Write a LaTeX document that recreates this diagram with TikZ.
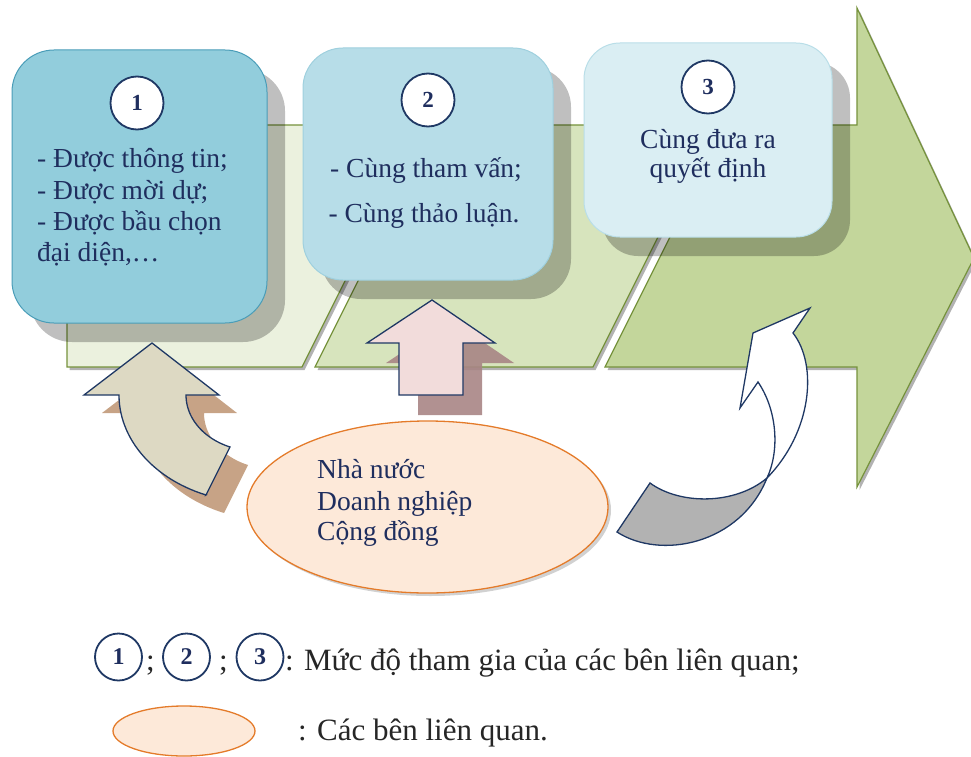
\documentclass[tikz,border=0pt]{standalone}
\usepackage{fontspec}
\setmainfont{Liberation Serif}
\usetikzlibrary{shapes.geometric,shadows}

\definecolor{segpale}{HTML}{EBF1DE}
\definecolor{segmid}{HTML}{D7E4BD}
\definecolor{segdark}{HTML}{C3D69B}
\definecolor{segline}{HTML}{76923C}
\definecolor{boxone}{HTML}{92CDDC}
\definecolor{boxoneline}{HTML}{4A9DB8}
\definecolor{boxtwo}{HTML}{B7DDE8}
\definecolor{boxtwoline}{HTML}{9FD0DE}
\definecolor{boxthree}{HTML}{DAEEF3}
\definecolor{boxthreeline}{HTML}{B9DEE8}
\definecolor{navy}{HTML}{1F3864}
\definecolor{inktext}{HTML}{1F2E5E}
\definecolor{peach}{HTML}{FDE9D9}
\definecolor{peachline}{HTML}{E47B2A}
\definecolor{pinkarrow}{HTML}{F2DCDB}
\definecolor{pinkshade}{HTML}{A88585}
\definecolor{tanarrow}{HTML}{DDD9C3}
\definecolor{tanshade}{HTML}{C7A386}
\definecolor{tailgray}{HTML}{B2B2B2}

\begin{document}
\begin{tikzpicture}[x=1pt,y=-1pt,
  seg/.style={draw=segline, line width=1.2pt, line join=miter},
  segshade/.style={fill=black, opacity=.3},
  card/.style={rounded corners=#1, inner sep=0pt, line width=1pt,
     drop shadow={shadow xshift=18pt, shadow yshift=-19pt, opacity=.25, fill=black}},
  numcirc/.style={circle, draw=navy, line width=1.8pt, fill=white, minimum size=53pt,
     inner sep=0pt, text=inktext, font=\fontsize{23}{23}\selectfont\bfseries},
  legcirc/.style={numcirc, minimum size=47pt, font=\fontsize{24}{24}\selectfont\bfseries},
  bodytxt/.style={inner sep=0pt, text=inktext, font=\fontsize{27.5}{32}\selectfont},
  legtxt/.style={inner sep=0pt, text=black!85, font=\fontsize{31}{36}\selectfont, anchor=base west},
  arrowline/.style={draw=navy, line width=1.3pt, line join=miter}
]
\useasboundingbox (0,0) rectangle (971,757);
\clip (0,0) rectangle (971,757);

% --- process band: two parallelograms and the final arrow ---
\fill[segshade, shift={(2.5,3)}] (67,125) -- (423,125) -- (302,367) -- (67,367) -- cycle;
\fill[segshade, shift={(2.5,3)}] (436,125) -- (714,125) -- (593,367) -- (315,367) -- cycle;
\fill[segshade, shift={(2.5,3)}] (726,125) -- (857,125) -- (857,8) -- (974,258) -- (857,487) -- (857,367) -- (605,367) -- cycle;
\draw[seg, fill=segpale] (67,125) -- (423,125) -- (302,367) -- (67,367) -- cycle;
\draw[seg, fill=segmid] (436,125) -- (714,125) -- (593,367) -- (315,367) -- cycle;
\draw[seg, fill=segdark] (726,125) -- (857,125) -- (857,8) -- (974,258) -- (857,487) -- (857,367) -- (605,367) -- cycle;

% --- participation level cards ---
\node[card=42pt, fill=boxone, draw=boxoneline, minimum width=255pt, minimum height=273pt] (b1) at (139.5,186.5) {};
\node[card=40pt, fill=boxtwo, draw=boxtwoline, minimum width=250pt, minimum height=232pt] (b2) at (428,164) {};
\node[card=36pt, fill=boxthree, draw=boxthreeline, minimum width=248pt, minimum height=194pt] (b3) at (708,140) {};

\node[numcirc] (c1) at (137,103) {1};
\node[numcirc] (c2) at (428,100) {2};
\node[numcirc] (c3) at (708,87) {3};

\node[bodytxt, anchor=base west] (t1a) at (37,167) {- Được thông tin;};
\node[bodytxt, anchor=base west] (t1b) at (37,199) {- Được mời dự;};
\node[bodytxt, anchor=base west] (t1c) at (37,230) {- Được bầu chọn};
\node[bodytxt, anchor=base west] (t1d) at (37,261) {đại diện,…};

\node[bodytxt, anchor=base] (t2a) at (426,177) {- Cùng tham vấn;};
\node[bodytxt, anchor=base] (t2b) at (424,222) {- Cùng thảo luận.};

\node[bodytxt, anchor=base] (t3a) at (708,148) {Cùng đưa ra};
\node[bodytxt, anchor=base] (t3b) at (708,177) {quyết định};

% --- straight up arrow into level 2 ---
\fill[pinkshade, opacity=.9, shift={(19,20)}] (432,300) -- (495,343) -- (463,343) -- (463,395) -- (399,395) -- (399,343) -- (367,343) -- cycle;
\draw[arrowline, fill=pinkarrow] (432,300) -- (495,343) -- (463,343) -- (463,395) -- (399,395) -- (399,343) -- (367,343) -- cycle;

% --- curved arrow into level 1 ---
\fill[tanshade, shift={(18,18)}] (152,343) -- (219,395) -- (186,395)
  -- plot[domain=180:111.8, samples=30] ({256+70*cos(\x)}, {395+56*sin(\x)})
  -- (206,495)
  -- plot[domain=111.4:180, samples=30] ({256+137*cos(\x)}, {395+107.4*sin(\x)})
  -- (84,395) -- cycle;
\draw[arrowline, fill=tanarrow] (152,343) -- (219,395) -- (186,395)
  -- plot[domain=180:111.8, samples=30] ({256+70*cos(\x)}, {395+56*sin(\x)})
  -- (206,495)
  -- plot[domain=111.4:180, samples=30] ({256+137*cos(\x)}, {395+107.4*sin(\x)})
  -- (84,395) -- cycle;

% --- stakeholders ---
\node[ellipse, draw=peachline, fill=peach, line width=1.3pt, minimum width=361pt, minimum height=172pt,
      drop shadow={shadow xshift=3pt, shadow yshift=-3pt, opacity=.18, fill=black}] (stake) at (427.5,507) {};
\node[bodytxt, anchor=base west] (s1) at (317,478) {Nhà nước};
\node[bodytxt, anchor=base west] (s2) at (317,510) {Doanh nghiệp};
\node[bodytxt, anchor=base west] (s3) at (317,540) {Cộng đồng};

% --- twisted ribbon arrow into level 3 ---
\draw[arrowline, fill=tailgray] (650,483) .. controls (680,505) and (735,505) .. (767,478)
  .. controls (740,545) and (660,560) .. (617,532) -- cycle;
\draw[arrowline, fill=white] (767,478) .. controls (780,450) and (777,410) .. (758,382)
  -- (740,408) -- (753,333) -- (810,308) -- (793,333)
  .. controls (818,365) and (812,432) .. (767,478) -- cycle;

% --- legend ---
\node[legcirc] (l1) at (118.5,657) {1};
\node[legcirc] (l2) at (186.5,657) {2};
\node[legcirc] (l3) at (260,657) {3};
\node[legtxt] (semi1) at (146,670) {;};
\node[legtxt] (semi2) at (219,670) {;};
\node[legtxt] (legA) at (285,670) {: Mức độ tham gia của các bên liên quan;};
\node[ellipse, draw=peachline, fill=peach, line width=1.3pt, minimum width=142pt, minimum height=50pt] (legE) at (184,731) {};
\node[legtxt] (legB) at (298,740) {: Các bên liên quan.};
\end{tikzpicture}
\end{document}
